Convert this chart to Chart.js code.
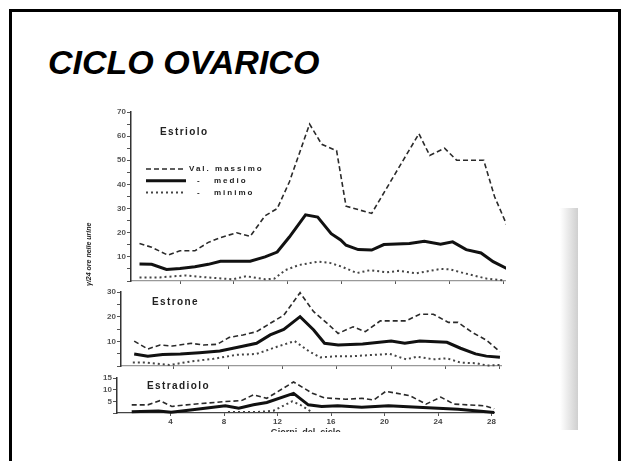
<!DOCTYPE html>
<html>
<head>
<meta charset="utf-8">
<script src="https://cdn.jsdelivr.net/npm/chart.js@4.4.1/dist/chart.umd.min.js"></script>
<style>
  html, body { margin: 0; padding: 0; background: #fff; }
  body { width: 623px; height: 461px; position: relative; overflow: hidden; font-family: "Liberation Sans", Arial, sans-serif; }
  #frame { position: absolute; left: 9px; top: 9px; width: 606px; height: 470px; border: 3px solid #000; }
  #title { position: absolute; left: 48px; top: 43px; font: italic bold 34px "Liberation Sans", Arial, sans-serif; color: #000; }
  #scan { position: absolute; left: 0; top: 0; width: 623px; height: 432px; overflow: hidden; }
  #scan canvas { position: absolute; filter: blur(0.3px); }
  #shadow { position: absolute; left: 560px; top: 208px; width: 18px; height: 222px; background: linear-gradient(to right, #fff, #cfcfcf); }
  #ylab { position: absolute; left: 61px; top: 254px; width: 56px; text-align: center; font: italic bold 7px "Liberation Sans", Arial, sans-serif; color: #222; transform: rotate(-90deg); transform-origin: 28px 4px; white-space: nowrap; }
</style>
</head>
<body>
<div id="frame"></div>
<div id="title">CICLO OVARICO</div>
<div id="scan">
  <canvas id="estriolo" width="446" height="191" style="left:60px; top:100px;"></canvas>
  <canvas id="estrone" width="452" height="96" style="left:50px; top:280px;"></canvas>
  <canvas id="estradiolo" width="451" height="74" style="left:46px; top:368px;"></canvas>
  <div id="ylab">γ/24 ore nelle urine</div>
  <div id="shadow"></div>
</div>
<script>
// giorni del ciclo (asse x comune)
const xTickDays = [4, 8, 12, 16, 20, 24, 28];
const xTickLabels = ['4', '8', '12', '16', '20', '24', '28'];
const seriesNames = ['Val. massimo', 'medio', 'minimo'];

// Estriolo
const estrioloTicks = [0, 5, 10, 15, 20, 25, 30, 35, 40, 45, 50, 55, 60, 65, 70];
const estrioloMaxDays = [1, 1.9, 3.1, 4, 5.1, 6.1, 7, 8.2, 9.2, 10.3, 11.2, 12.1, 13.6, 14.5, 15.6, 16.3, 18.2, 21.7, 22.5, 23.6, 24.5, 26.5, 27.3, 28.3];
const estrioloMax = [15.5, 14, 10.7, 12.5, 12.5, 16, 18, 20, 18.5, 27, 30, 41, 65, 56.6, 54, 31, 28, 61, 52, 55, 50, 50, 35, 22];
const estrioloMedDays = [1, 1.9, 3, 4, 5.1, 6.1, 7, 8.2, 9.2, 10.3, 11.2, 12.1, 13.3, 14.2, 15.2, 15.9, 16.3, 17.2, 18.2, 19.1, 21, 22.1, 23.3, 24.2, 25.2, 26.3, 27.2, 28.2];
const estrioloMed = [7, 6.9, 4.8, 5.2, 5.9, 6.9, 8.2, 8.2, 8.2, 10, 12, 18.2, 27.4, 26.5, 19.6, 17, 14.8, 13, 12.8, 15.1, 15.5, 16.5, 15.2, 16.2, 13, 11.6, 8, 5.2];
const estrioloMinDays = [1, 2.5, 4.4, 6, 7.9, 8.9, 10.3, 11, 11.8, 12.8, 14.2, 15.1, 16, 17.1, 18.1, 19.3, 20.2, 21.5, 23.3, 24, 25, 26.7, 28];
const estrioloMin = [1.5, 1.5, 2.3, 1.5, 0.7, 2, 0.7, 1, 4.5, 6.6, 8, 7.5, 5.9, 3.3, 4.5, 3.6, 4.2, 3.2, 5, 4.8, 3.3, 1, 0.2];

// Estrone
const estroneTicks = [0, 5, 10, 15, 20, 25, 30];
const estroneMaxDays = [1.1, 2.1, 3, 3.9, 5.3, 6.2, 7.2, 8.1, 9.1, 10.1, 11.1, 12.1, 13.3, 14.3, 15.3, 16.1, 17.2, 18.1, 19.2, 21.1, 22.1, 23.1, 24.2, 24.9, 26, 27, 28];
const estroneMax = [10.1, 6.9, 8.5, 8.1, 9.2, 8.5, 8.8, 11.6, 12.6, 13.9, 17.3, 20.6, 29.7, 22, 17.3, 13.2, 15.9, 13.9, 18.3, 18.3, 21, 21, 17.7, 17.7, 13.5, 10.5, 5.8];
const estroneMedDays = [1.1, 2.1, 3.2, 4.5, 5.9, 7.4, 8.9, 10.1, 11.1, 12.1, 13.3, 14.3, 15.1, 16.1, 17.9, 20, 21, 22.1, 24.1, 25.1, 26.2, 27, 28];
const estroneMed = [4.9, 4, 4.7, 4.9, 5.4, 6.1, 7.8, 9.2, 12.6, 14.8, 20, 14.6, 9.2, 8.5, 8.9, 10.1, 9.2, 10.1, 9.6, 7.2, 4.9, 4, 3.5];
const estroneMinDays = [1, 2, 3.7, 5.2, 6.9, 8.6, 10.1, 11.6, 12.9, 14, 14.8, 16, 17.2, 19.9, 21.1, 21.9, 23.1, 24.1, 25.1, 26.3, 27, 28];
const estroneMin = [1.4, 1.4, 0.4, 1.8, 2.9, 4.5, 4.9, 7.8, 10.1, 5.8, 3.5, 4, 4, 4.9, 2.7, 3.8, 2.7, 3.1, 1.4, 1.1, 0.2, 0.4];

// Estradiolo
const estradioloTicks = [0, 5, 10, 15];
const estradioloMaxDays = [1.1, 2.3, 3.2, 4.1, 5.2, 8.1, 9.3, 10.2, 11.2, 13.2, 14.6, 15.5, 17.1, 18.3, 19.2, 20.1, 21.9, 23.1, 24.2, 25.2, 27.5, 28.2];
const estradioloMax = [3.5, 3.5, 5.3, 2.8, 3.5, 4.9, 5.3, 7.8, 6.3, 13.3, 8.5, 6.5, 5.9, 6.3, 5.6, 9.3, 7.4, 3.8, 6.8, 3.8, 3.1, 1.8];
const estradioloMedDays = [1.1, 3.1, 4.05, 5.5, 8.1, 9.1, 10.2, 11.2, 13.2, 14.3, 15.3, 16.5, 18.3, 20.3, 22.5, 25.5, 27.2, 28.2];
const estradioloMed = [0.5, 0.9, 0.3, 1.3, 3.1, 2, 3.5, 4.5, 8.4, 3.5, 2.8, 3.1, 2.5, 3.1, 2.5, 1.6, 0.8, 0.2];
const estradioloMinDays = [8.3, 10.5, 11.7, 13.1, 13.7, 14.6];
const estradioloMin = [0.4, 0.4, 1, 5, 3.5, 0.3];

const pair = (days, vals) => days.map((d, i) => ({ x: d, y: vals[i] }));

// stili delle tre curve: tratteggio, linea spessa, puntini
function lineSets(maxD, maxV, medD, medV, minD, minV) {
  return [
    { label: seriesNames[0], data: pair(maxD, maxV), borderColor: '#2a2a2a', borderWidth: 1.6, borderDash: [5, 3] },
    { label: seriesNames[1], data: pair(medD, medV), borderColor: '#111', borderWidth: 3 },
    { label: seriesNames[2], data: pair(minD, minV), borderColor: '#444', borderWidth: 2, borderDash: [2, 3] }
  ].map(ds => Object.assign(ds, { pointRadius: 0, tension: 0, fill: false, clip: false }));
}

// titolo del pannello e (solo per l'estriolo) la legenda
const panelText = {
  id: 'panelText',
  afterDraw(chart, args, opts) {
    const ctx = chart.ctx;
    const a = chart.chartArea;
    ctx.save();
    ctx.fillStyle = '#222';
    ctx.textBaseline = 'middle';
    ctx.font = 'bold 10px "Liberation Sans", Arial, sans-serif';
    ctx.letterSpacing = '1.4px';
    ctx.fillText(opts.title, a.left + opts.dx, a.top + opts.dy);
    if (opts.legend) {
      ctx.font = 'bold 8px "Liberation Sans", Arial, sans-serif';
      ctx.letterSpacing = '2px';
      chart.data.datasets.forEach((ds, i) => {
        const y = a.top + 57 + i * 11.7;
        ctx.strokeStyle = ds.borderColor;
        ctx.lineWidth = ds.borderWidth;
        ctx.setLineDash(ds.borderDash || []);
        ctx.beginPath();
        ctx.moveTo(a.left + 15, y);
        ctx.lineTo(a.left + 55, y);
        ctx.stroke();
        if (i === 0) {
          ctx.fillText(ds.label, a.left + 58, y);
        } else {
          ctx.fillText('-', a.left + 66, y);
          ctx.fillText(ds.label, a.left + 83, y);
        }
      });
    }
    ctx.restore();
  }
};

function makePanel(id, datasets, yTicks, yMax, xMin, xMax, padTop, xHeight, bottomPanel, textOpts) {
  const labelFont = { family: '"Liberation Sans", Arial, sans-serif', size: 8, weight: 'bold' };
  return new Chart(document.getElementById(id), {
    type: 'line',
    data: { datasets: datasets },
    options: {
      responsive: false,
      animation: false,
      devicePixelRatio: 1,
      layout: { padding: { top: padTop, left: 0, right: 0, bottom: 0 } },
      scales: {
        x: {
          type: 'linear',
          min: xMin,
          max: xMax,
          afterBuildTicks: s => { s.ticks = xTickDays.map(v => ({ value: v })); },
          afterFit: s => { s.height = xHeight; },
          border: { display: true, color: bottomPanel ? '#444' : '#999', width: 1.2 },
          grid: { drawOnChartArea: false, drawTicks: true, tickLength: 3, color: '#555' },
          ticks: {
            display: bottomPanel,
            autoSkip: false,
            maxRotation: 0,
            padding: 1,
            color: '#444',
            font: labelFont,
            callback: v => xTickLabels[xTickDays.indexOf(v)]
          },
          title: {
            display: bottomPanel,
            text: 'Giorni  del  ciclo',
            color: '#333',
            font: { family: '"Liberation Sans", Arial, sans-serif', size: 9, weight: 'bold' },
            padding: { top: 0, bottom: 4 }
          }
        },
        y: {
          min: 0,
          max: yMax,
          afterBuildTicks: s => { s.ticks = yTicks.map(v => ({ value: v })); },
          afterFit: s => { s.width = 71; },
          border: { display: true, color: '#333', width: 1.5 },
          grid: { drawOnChartArea: false, drawTicks: true, tickLength: 4, color: '#555' },
          ticks: {
            autoSkip: false,
            padding: 1,
            color: '#555',
            font: labelFont,
            callback: v => (v === 0 || v % (yMax > 15 ? 10 : 5) ? '' : v)
          }
        }
      },
      plugins: {
        legend: { display: false },
        tooltip: { enabled: false },
        panelText: textOpts
      }
    },
    plugins: [panelText]
  });
}

makePanel('estriolo',
  lineSets(estrioloMaxDays, estrioloMax, estrioloMedDays, estrioloMed, estrioloMinDays, estrioloMin),
  estrioloTicks, 70, 0.37, 28.15, 12, 10, false,
  { title: 'Estriolo', dx: 29, dy: 20, legend: true });

makePanel('estrone',
  lineSets(estroneMaxDays, estroneMax, estroneMedDays, estroneMed, estroneMinDays, estroneMin),
  estroneTicks, 30, 0.13, 28.15, 12, 10, false,
  { title: 'Estrone', dx: 31, dy: 10, legend: false });

makePanel('estradiolo',
  lineSets(estradioloMaxDays, estradioloMax, estradioloMedDays, estradioloMed, estradioloMinDays, estradioloMin),
  estradioloTicks, 15, 0, 28.22, 10, 29, true,
  { title: 'Estradiolo', dx: 30, dy: 8, legend: false });
</script>
</body>
</html>
